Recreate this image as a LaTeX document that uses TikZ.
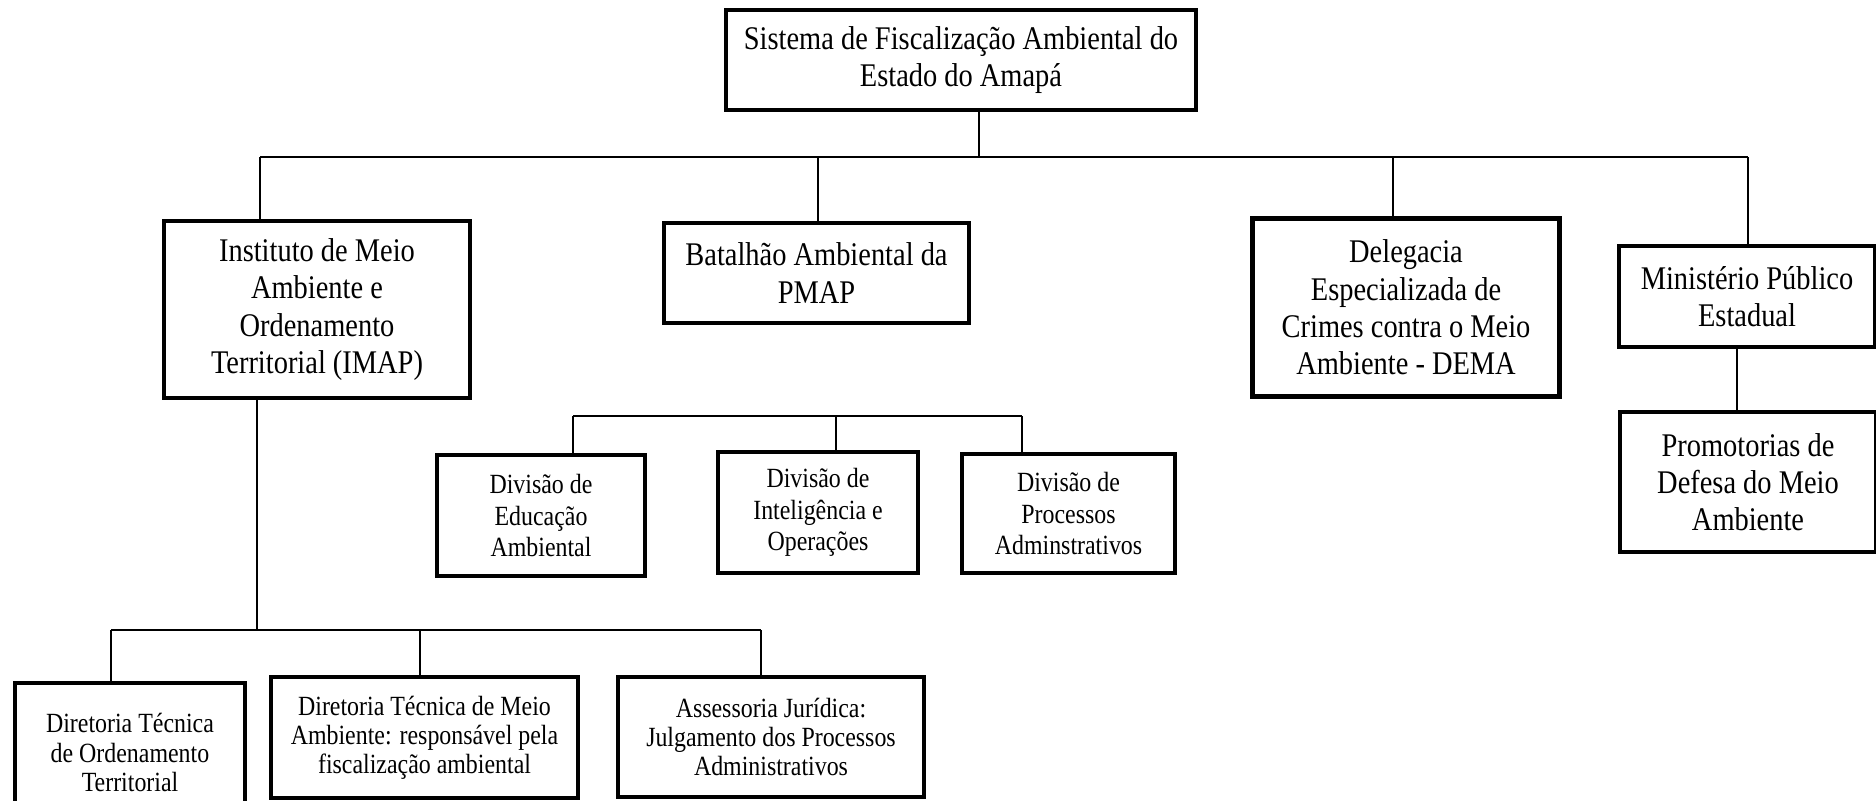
\documentclass[tikz,border=0pt]{standalone}
\usepackage{fontspec}
\setmainfont{Liberation Serif}[FakeStretch=0.86]
\usepackage{tikz}
\tikzset{%
  every unit/.style={
    rectangle,
    draw,
    line width=1.3pt,
    align=center,
    inner sep=2pt
  },
  unit big/.style={
    font=\fontsize{9.4}{10.6}\selectfont
  },
  unit small/.style={
    font=\fontsize{7.9}{8.3}\selectfont
  },
  unit division/.style={
    font=\fontsize{7.9}{9}\selectfont
  },
  link/.style={
    line width=0.75pt
  },
}

\begin{document}
\begin{tikzpicture}[x=0.01cm, y=-0.01cm]
        \clip (0,0) rectangle (1876,800);

        % top level
        \node [every unit/.try, unit big, minimum width=4.70cm, minimum height=1.00cm] (sistema) at (961,60)
        {Sistema de Fiscalização Ambiental do\\Estado do Amapá};

        % organs
        \node [every unit/.try, unit big, minimum width=3.06cm, minimum height=1.77cm] (imap) at (317,309.5)
        {Instituto de Meio\\Ambiente e\\Ordenamento\\Territorial (IMAP)};
        \node [every unit/.try, unit big, minimum width=3.05cm, minimum height=1.00cm] (batalhao) at (816.5,273)
        {Batalhão Ambiental da\\PMAP};
        \node [every unit/.try, unit big, minimum width=3.07cm, minimum height=1.78cm] (dema) at (1406,307.5)
        {Delegacia\\Especializada de\\Crimes contra o Meio\\Ambiente - DEMA};
        \node [every unit/.try, unit big, minimum width=2.56cm, minimum height=1.01cm] (mp) at (1747,296.5)
        {Ministério Público\\Estadual};
        \node [every unit/.try, unit big, minimum width=2.56cm, minimum height=1.40cm] (promotorias) at (1748,482)
        {Promotorias de\\Defesa do Meio\\Ambiente};

        % divisions
        \node [every unit/.try, unit division, minimum width=2.08cm, minimum height=1.21cm] (division-1) at (541,515.5)
        {Divisão de\\Educação\\Ambiental};
        \node [every unit/.try, unit division, minimum width=2.00cm, minimum height=1.21cm] (division-2) at (818,512.5)
        {Divisão de\\Inteligência e\\Operações};
        \node [every unit/.try, unit division, minimum width=2.13cm, minimum height=1.19cm] (division-3) at (1068.5,513.5)
        {Divisão de\\Processos\\Adminstrativos};

        % directorates
        \node [every unit/.try, unit small, minimum width=2.30cm, minimum height=1.39cm] (diretoria-1) at (130,752.5)
        {Diretoria Técnica\\de Ordenamento\\Territorial};
        \node [every unit/.try, unit small, minimum width=3.07cm, minimum height=1.21cm] (diretoria-2) at (424.5,737.5)
        {Diretoria Técnica de Meio\\Ambiente: responsável pela\\fiscalização ambiental};
        \node [every unit/.try, unit small, minimum width=3.06cm, minimum height=1.20cm] (diretoria-3) at (771,737)
        {Assessoria Jurídica:\\Julgamento dos Processos\\Administrativos};

        %   links
        \coordinate (trunk) at (979,157);
        \draw [link] (sistema.south -| trunk) -- (trunk);

        \foreach \n/\x in {imap/260, batalhao/818, dema/1393, mp/1748}
        \coordinate (top-\n) at (\x,157);
        \draw [link] (top-imap) -- (top-mp);
        \foreach \n in {imap, batalhao, dema, mp}
        \draw [link] (top-\n) -- (top-\n |- \n.north);

        \coordinate (mp-link) at (1737,400);
        \draw [link] (mp-link |- mp.south) -- (mp-link |- promotorias.north);

        \foreach \i/\x in {1/573, 2/836, 3/1022}
        \coordinate (division-top-\i) at (\x,416);
        \draw [link] (division-top-1) -- (division-top-3);
        \foreach \i in {1,...,3}
        \draw [link] (division-top-\i) -- (division-top-\i |- division-\i.north);

        \coordinate (imap-link) at (257,630);
        \draw [link] (imap-link |- imap.south) -- (imap-link);
        \foreach \i/\x in {1/111, 2/420, 3/761}
        \coordinate (diretoria-top-\i) at (\x,630);
        \draw [link] (diretoria-top-1) -- (diretoria-top-3);
        \foreach \i in {1,...,3}
        \draw [link] (diretoria-top-\i) -- (diretoria-top-\i |- diretoria-\i.north);

    \end{tikzpicture}
\end{document}
